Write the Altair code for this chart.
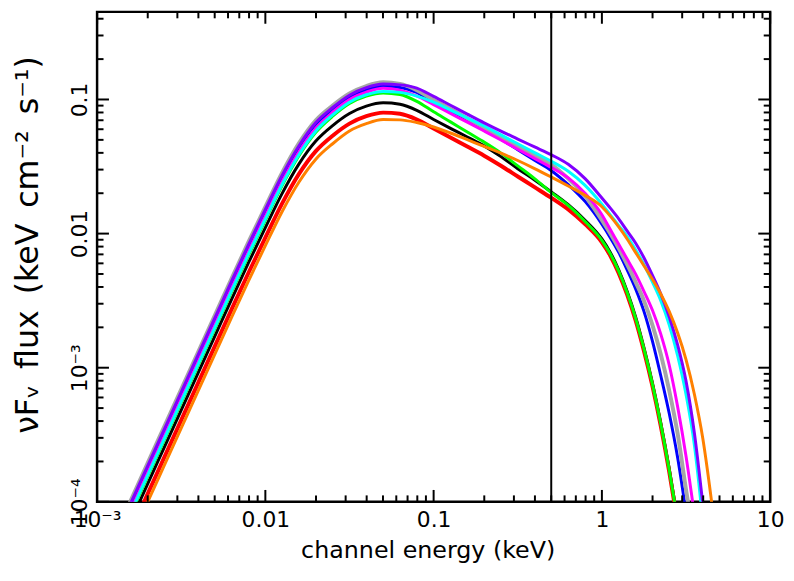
import altair as alt
import pandas as pd

# log10 of channel energy (keV) at which each curve is read
E_LOG = [-3.0, -2.9, -2.8, -2.7, -2.6, -2.5, -2.4, -2.3, -2.2, -2.1,
         -2.0, -1.9, -1.8, -1.7, -1.6, -1.5, -1.4, -1.3, -1.2, -1.1,
         -1.0, -0.9, -0.8, -0.7, -0.6, -0.5, -0.4, -0.3, -0.2, -0.1,
         0.0, 0.05, 0.1, 0.15, 0.2, 0.25, 0.3, 0.35, 0.4, 0.45,
         0.5, 0.55, 0.6, 0.65, 0.7]

# log10 of nuFnu flux (keV cm^-2 s^-1)
gray_log_flux = [-4.54, -4.265, -3.99, -3.713, -3.437, -3.161, -2.885, -2.609, -2.333, -2.062,
                 -1.80, -1.545, -1.325, -1.155, -1.045, -0.955, -0.90, -0.872, -0.884, -0.931,
                 -1.003, -1.07, -1.14, -1.21, -1.28, -1.347, -1.416, -1.485, -1.59, -1.72,
                 -1.90, -2.0, -2.11, -2.23, -2.36, -2.50, -2.68, -2.90, -3.17, -3.49,
                 -3.91, -4.3]
purple_log_flux = [-4.56, -4.285, -4.01, -3.733, -3.457, -3.181, -2.905, -2.629, -2.353, -2.082,
                   -1.82, -1.565, -1.345, -1.172, -1.06, -0.968, -0.912, -0.885, -0.891, -0.915,
                   -0.977, -1.043, -1.109, -1.174, -1.236, -1.295, -1.354, -1.413, -1.483, -1.59,
                   -1.735, -1.81, -1.89, -1.98, -2.07, -2.18, -2.31, -2.45, -2.62, -2.83,
                   -3.1, -3.49, -4.02, -4.6]
blue_log_flux = [-4.57, -4.295, -4.02, -3.743, -3.467, -3.191, -2.915, -2.639, -2.363, -2.092,
                 -1.83, -1.575, -1.355, -1.185, -1.075, -0.985, -0.93, -0.902, -0.91, -0.948,
                 -1.022, -1.089, -1.156, -1.223, -1.296, -1.374, -1.453, -1.531, -1.635, -1.76,
                 -1.93, -2.03, -2.14, -2.27, -2.41, -2.58, -2.80, -3.06, -3.34, -3.67,
                 -4.08]
magenta_log_flux = [-4.61, -4.335, -4.06, -3.783, -3.507, -3.231, -2.955, -2.679, -2.403, -2.132,
                    -1.87, -1.612, -1.39, -1.215, -1.095, -1.0, -0.945, -0.916, -0.93, -0.974,
                    -1.038, -1.104, -1.169, -1.235, -1.302, -1.371, -1.439, -1.507, -1.585, -1.70,
                    -1.86, -1.97, -2.08, -2.19, -2.30, -2.43, -2.57, -2.75, -2.98, -3.29,
                    -3.66, -4.1]
cyan_log_flux = [-4.63, -4.355, -4.08, -3.803, -3.527, -3.251, -2.975, -2.699, -2.423, -2.152,
                 -1.89, -1.632, -1.41, -1.235, -1.115, -1.02, -0.965, -0.94, -0.947, -0.975,
                 -1.02, -1.079, -1.138, -1.198, -1.264, -1.33, -1.396, -1.461, -1.535, -1.64,
                 -1.78, -1.86, -1.94, -2.02, -2.12, -2.23, -2.36, -2.50, -2.68, -2.91,
                 -3.2, -3.58, -4.15]
green_log_flux = [-4.64, -4.365, -4.09, -3.813, -3.537, -3.261, -2.985, -2.709, -2.433, -2.162,
                  -1.90, -1.642, -1.42, -1.245, -1.125, -1.03, -0.975, -0.951, -0.963, -1.014,
                  -1.092, -1.167, -1.243, -1.318, -1.40, -1.495, -1.59, -1.695, -1.79, -1.91,
                  -2.05, -2.15, -2.28, -2.44, -2.63, -2.86, -3.12, -3.42, -3.76, -4.14]
black_log_flux = [-4.695, -4.42, -4.145, -3.868, -3.592, -3.316, -3.04, -2.764, -2.488, -2.217,
                  -1.955, -1.70, -1.48, -1.31, -1.195, -1.105, -1.05, -1.025, -1.036, -1.081,
                  -1.149, -1.215, -1.28, -1.346, -1.426, -1.516, -1.60, -1.69, -1.785, -1.90,
                  -2.04, -2.14, -2.27, -2.43, -2.62, -2.85, -3.11, -3.41, -3.75, -4.13]
red_log_flux = [-4.77, -4.495, -4.22, -3.943, -3.667, -3.391, -3.115, -2.839, -2.563, -2.292,
                -2.03, -1.775, -1.555, -1.385, -1.27, -1.18, -1.125, -1.098, -1.107, -1.149,
                -1.216, -1.284, -1.351, -1.419, -1.494, -1.574, -1.654, -1.734, -1.82, -1.93,
                -2.065, -2.165, -2.295, -2.455, -2.645, -2.875, -3.135, -3.435, -3.775, -4.155]
orange_log_flux = [-4.83, -4.555, -4.28, -4.003, -3.727, -3.451, -3.175, -2.899, -2.623, -2.352,
                   -2.09, -1.835, -1.615, -1.445, -1.33, -1.235, -1.18, -1.15, -1.152, -1.172,
                   -1.205, -1.25, -1.30, -1.35, -1.40, -1.455, -1.515, -1.579, -1.645, -1.715,
                   -1.80, -1.87, -1.95, -2.04, -2.14, -2.24, -2.34, -2.45, -2.58, -2.74,
                   -2.94, -3.2, -3.53, -3.98, -4.5]

MARKER_ENERGY = [0.5]

X_MAJOR = [0.001, 0.01, 0.1, 1, 10]
Y_MAJOR = [1e-4, 1e-3, 1e-2, 0.1]
MINOR_MULT = [2, 3, 4, 5, 6, 7, 8, 9]

# drawing order: first is bottom
SERIES = [
    ("black", black_log_flux, "#000000", 3.0),
    ("red", red_log_flux, "#FF0000", 4.0),
    ("green", green_log_flux, "#00FF00", 3.0),
    ("blue", blue_log_flux, "#0000FF", 3.0),
    ("gray", gray_log_flux, "#A6A6A6", 4.0),
    ("magenta", magenta_log_flux, "#FF00FF", 3.0),
    ("cyan", cyan_log_flux, "#00FFFF", 3.0),
    ("purple", purple_log_flux, "#8000FF", 3.0),
    ("orange", orange_log_flux, "#FF8000", 3.0),
]

W, H = 680, 495
FONT = "DejaVu Sans"
SP = "\u2002"

xscale = alt.Scale(type="log", domain=[1e-3, 10], nice=False)
yscale = alt.Scale(type="log", domain=[1e-4, 0.45], nice=False)

x_axis = alt.Axis(
    values=X_MAJOR,
    labelExpr="datum.value < 0.005 ? '10⁻³' : datum.value < 0.05 ? '0.01' : datum.value < 0.5 ? '0.1' : datum.value < 5 ? '1' : '10'",
    ticks=False, domain=False, grid=False, labelFlush=False, labelOverlap=False,
    labelFont=FONT, labelFontSize=22, labelColor="black", labelPadding=8,
    title="channel energy (keV)", titleFont=FONT, titleFontSize=24,
    titleFontWeight="normal", titleColor="black",
    titleX=334, titleY=49, titleBaseline="middle", titleAlign="center",
)
y_axis = alt.Axis(
    values=Y_MAJOR,
    labelExpr="datum.value < 0.0005 ? '10⁻⁴' : datum.value < 0.005 ? '10⁻³' : datum.value < 0.05 ? '0.01' : '0.1'",
    ticks=False, domain=False, grid=False, labelFlush=True, labelOverlap=False,
    labelAngle=270, labelAlign="center", labelBaseline="bottom",
    labelFont=FONT, labelFontSize=22, labelColor="black", labelPadding=6,
    title=f"νFᵥ{SP}flux{SP}(keV{SP}cm⁻²{SP}s⁻¹)", titleFont=FONT, titleFontSize=32,
    titleFontWeight="normal", titleColor="black",
    titleAngle=270, titleX=-70, titleY=235, titleBaseline="middle", titleAlign="center",
)

layers = []
for name, vals, color, sw in SERIES:
    df = pd.DataFrame({
        "E": [10 ** e for e in E_LOG[:len(vals)]],
        "F": [10 ** v for v in vals],
    })
    layers.append(
        alt.Chart(df).mark_line(color=color, strokeWidth=sw, clip=True, interpolate="monotone")
        .encode(x=alt.X("E:Q", scale=xscale, axis=x_axis),
                y=alt.Y("F:Q", scale=yscale, axis=y_axis))
    )

# vertical marker line
layers.append(
    alt.Chart(pd.DataFrame({"E": MARKER_ENERGY})).mark_rule(color="black", strokeWidth=2)
    .encode(x=alt.X("E:Q", scale=xscale, axis=x_axis))
)

# inward ticks on all four sides
x_minor = [m * d for d in X_MAJOR[:-1] for m in MINOR_MULT]
y_minor = [m * d for d in Y_MAJOR for m in MINOR_MULT if m * d < 0.45]


def tick_layers(vals, length):
    df = pd.DataFrame({"v": vals})
    base = alt.Chart(df).mark_rule(color="black", strokeWidth=2)
    return [
        base.encode(x=alt.X("v:Q", scale=xscale, axis=x_axis), y=alt.value(H), y2=alt.value(H - length)),
        base.encode(x=alt.X("v:Q", scale=xscale, axis=x_axis), y=alt.value(0), y2=alt.value(length)),
    ]


def ytick_layers(vals, length):
    df = pd.DataFrame({"v": vals})
    base = alt.Chart(df).mark_rule(color="black", strokeWidth=2)
    return [
        base.encode(y=alt.Y("v:Q", scale=yscale, axis=y_axis), x=alt.value(0), x2=alt.value(length)),
        base.encode(y=alt.Y("v:Q", scale=yscale, axis=y_axis), x=alt.value(W), x2=alt.value(W - length)),
    ]


layers += tick_layers(X_MAJOR, 12) + tick_layers(x_minor, 6.5)
layers += ytick_layers(Y_MAJOR, 12) + ytick_layers(y_minor, 6.5)

chart = alt.layer(*layers).properties(
    width=W, height=H,
    autosize=alt.AutoSizeParams(type="none"),
    padding={"left": 90, "top": 1, "right": 16, "bottom": 70},
    background="white",
).configure_view(stroke="black", strokeWidth=2.5)

chart.save("out.html", embed_options={"renderer": "svg", "actions": False})
